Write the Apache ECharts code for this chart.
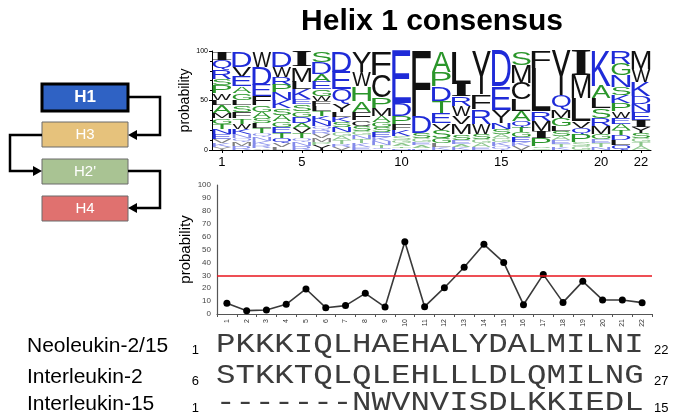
<!DOCTYPE html>
<html><head><meta charset="utf-8">
<script src="https://cdn.jsdelivr.net/npm/echarts@6/dist/echarts.min.js"></script>
<style>html,body{margin:0;padding:0;background:#fff}#c{width:674px;height:414px}</style>
</head><body><div id="c"></div>
<script>
// ---------- data ----------
const positions = ['1','2','3','4','5','6','7','8','9','10','11','12','13','14','15','16','17','18','19','20','21','22'];
const logoTickLabels = [1, 5, 10, 15, 20, 22];
const consensusProb = [8.3, 2.6, 3.1, 7.5, 19.4, 4.9, 6.5, 16, 5.4, 56, 5.7, 20.4, 36.2, 54, 40, 7.2, 30.7, 9, 25.3, 10.9, 10.9, 8.8];
const threshold = 30;
// sequence logo: letters top -> bottom with probability heights (%)
const logoLetters = [
  'IQRSPWLAMGTNEVKY', 'DVEAGLSFTWKNQMR', 'WDEFGASLTQNKRV', 'DWRPNKSAGETQVL',
  'IMLKESGDAVTQNR', 'SDAEGWFLTKNQRVMPY', 'DEQYLKSNGATRV', 'YWHAFCSGNTKE',
  'FCPMAGSEKNTQ', 'EDPFKSGATN', 'FDSGEAK', 'APDTEVSGLK',
  'LIRWVMSEAK', 'YFRWSGAE', 'DEYNSAGKQ', 'SMCLAQTGEKV',
  'FLRMIPSG', 'YQMGLSAETK', 'IMLVQPSG', 'KALSRMGETN',
  'RGNSKPWEATDLQ', 'MWKDNEIYSGTA'
];
const logoHeights = [
  [9,10,9,7,8,7,5,8,5,6,5,5,5,4,4,3], [16,10,10,7,7,5,7,6,6,5,5,4,4,4,4], [16,18,12,9,7,6,5,5,5,4,4,4,3,2], [16,10,8,8,8,8,7,6,6,6,5,5,4,3],
  [16,15,8,10,5,7,6,6,5,5,5,4,4,4], [11,12,8,8,7,5,5,5,5,5,5,4,4,4,4,3,5], [21,18,15,8,5,5,5,5,4,4,4,3,3], [21,15,15,11,8,6,5,4,4,4,4,3],
  [24,23,11,8,6,5,5,5,4,4,3,2], [53,13,8,6,6,4,3,3,2,2], [66,17,5,4,3,3,2], [21,15,15,12,10,7,8,5,4,3],
  [33,13,10,10,8,10,6,4,3,3], [44,15,15,10,5,4,4,3], [36,24,13,6,5,4,4,4,4], [14,18,17,12,10,6,5,5,5,4,4],
  [17,44,10,10,7,8,2,2], [45,15,8,8,5,5,4,4,3,3], [25,23,23,7,6,8,4,4], [35,13,10,10,8,8,5,4,4,3],
  [13,12,12,8,8,8,7,6,6,5,5,5,5], [18,13,15,8,8,8,7,6,5,4,4,4]
];
const proteinNames = ['Neoleukin-2/15', 'Interleukin-2', 'Interleukin-15'];
const seqStart = ['1', '6', '1'];
const seqEnd = ['22', '27', '15'];
const sequences = ['PKKKIQLHAEHALYDALMILNI', 'STKKTQLQLEHLLLDLQMILNG', '-------NWVNVISDLKKIEDL'];
const helixLabels = ['H1', 'H3', "H2'", 'H4'];
const titleText = 'Helix 1 consensus';

// ---------- helpers ----------
const BLUE = '#1f2bd8', GREEN = '#2a962a', BLACK = '#111';
function letterColor(ch) {
  if ('DEKRNQ'.indexOf(ch) >= 0) return BLUE;
  if ('SAGTPH'.indexOf(ch) >= 0) return GREEN;
  return BLACK;
}
const mctx = document.createElement('canvas').getContext('2d');
const gcache = {};
function glyphBox(ch, fam, fw) {
  const k = ch + fam + fw;
  if (gcache[k]) return gcache[k];
  mctx.font = 'normal ' + fw + ' 100px ' + fam;
  mctx.textBaseline = 'middle';
  mctx.textAlign = 'left';
  const m = mctx.measureText(ch);
  return gcache[k] = { l: m.actualBoundingBoxLeft, r: m.actualBoundingBoxRight, a: m.actualBoundingBoxAscent, d: m.actualBoundingBoxDescent };
}
const logoItems = [];
logoLetters.forEach((str, p) => {
  let cur = logoHeights[p].reduce((s, v) => s + v, 0);
  for (let j = 0; j < str.length; j++) {
    const h = logoHeights[p][j];
    logoItems.push({ pos: p + 1, y1: cur, y0: cur - h, ch: str[j] });
    cur -= h;
  }
});

// ---------- chart ----------
const chart = echarts.init(document.getElementById('c'), null, { renderer: 'canvas' });
const boxY = [84, 122, 159, 196];
const boxFill = ['#2f62c4', '#e6c27c', '#a9c393', '#e0716f'];
const graphics = [];
helixLabels.forEach((t, i) => {
  graphics.push({ type: 'rect', shape: { x: 42, y: boxY[i], width: 86, height: i === 0 ? 27 : 25 },
    style: { fill: boxFill[i], stroke: i === 0 ? '#000' : '#6b6b6b', lineWidth: i === 0 ? 3 : 1 } });
  graphics.push({ type: 'text', x: 85, y: boxY[i] + (i === 0 ? 13.5 : 12.5),
    style: { text: t, fill: '#fff', font: (i === 0 ? 'bold 17px' : '15px') + ' "Liberation Sans", Arial', align: 'center', verticalAlign: 'middle' } });
});
const arrows = [
  [[[129, 97], [160, 97], [160, 135], [134, 135]], [[128, 135], [137, 130], [137, 140]]],
  [[[42, 135], [10, 135], [10, 171], [36, 171]], [[42, 171], [33, 166], [33, 176]]],
  [[[128, 171], [160, 171], [160, 208], [134, 208]], [[128, 208], [137, 203], [137, 213]]]
];
arrows.forEach(a => {
  graphics.push({ type: 'polyline', shape: { points: a[0] }, style: { stroke: '#000', lineWidth: 2.5, fill: null } });
  graphics.push({ type: 'polygon', shape: { points: a[1] }, style: { fill: '#000' } });
});
graphics.push({ type: 'text', x: 432, y: 22, style: { text: titleText, fill: '#000', font: 'bold 30px "Liberation Sans", Arial', align: 'center', verticalAlign: 'middle' } });
const rowY = [345, 376, 403];
proteinNames.forEach((n, i) => {
  graphics.push({ type: 'text', x: 27, y: rowY[i] + 1, style: { text: n, fill: '#000', font: '21px "Liberation Sans", Arial', verticalAlign: 'middle' } });
  graphics.push({ type: 'text', x: 199, y: rowY[i] + 5, style: { text: seqStart[i], fill: '#000', font: '13px "Liberation Sans", Arial', align: 'right', verticalAlign: 'middle' } });
  graphics.push({ type: 'text', x: 216, y: rowY[i], scaleY: 0.86,
    style: { text: sequences[i], fill: '#3c3c3c', font: '32.4px "Liberation Mono", monospace', verticalAlign: 'middle' } });
  graphics.push({ type: 'text', x: 654, y: rowY[i] + 5, style: { text: seqEnd[i], fill: '#000', font: '13px "Liberation Sans", Arial', verticalAlign: 'middle' } });
});

const option = {
  animation: false,
  backgroundColor: '#fff',
  textStyle: { fontFamily: '"Liberation Sans", Arial' },
  grid: [
    { left: 212, right: 23, top: 51, bottom: 264 },
    { left: 217, right: 22, top: 185, bottom: 100 }
  ],
  xAxis: [
    { gridIndex: 0, type: 'value', min: 0.5, max: 22.5,
      axisLine: { show: true, lineStyle: { color: '#000', width: 1 } },
      axisTick: { show: true, length: 3, customValues: positions.map(Number), lineStyle: { color: '#000' } },
      axisLabel: { customValues: logoTickLabels, fontSize: 13, color: '#000', margin: 6 },
      splitLine: { show: false } },
    { gridIndex: 1, type: 'category', data: positions, boundaryGap: true,
      axisLine: { lineStyle: { color: '#555', width: 1.2 } },
      axisTick: { show: true, length: 3, lineStyle: { color: '#555' } },
      axisLabel: { rotate: 90, fontSize: 7, color: '#333', margin: 5, interval: 0 } }
  ],
  yAxis: [
    { gridIndex: 0, type: 'value', min: 0, max: 100, interval: 50,
      name: 'probability', nameLocation: 'middle', nameGap: 20, nameMoveOverlap: false,
      nameTextStyle: { fontSize: 14, color: '#000' },
      axisLine: { show: true, lineStyle: { color: '#000' } },
      axisTick: { show: true, length: 3, lineStyle: { color: '#000' } },
      minorTick: { show: true, splitNumber: 5, length: 2, lineStyle: { color: '#000' } },
      axisLabel: { fontSize: 7, color: '#000', margin: 4 },
      splitLine: { show: false } },
    { gridIndex: 1, type: 'value', min: 0, max: 100, interval: 10,
      name: 'probability', nameLocation: 'middle', nameGap: 24, nameMoveOverlap: false,
      nameTextStyle: { fontSize: 15, color: '#000' },
      axisLine: { show: true, lineStyle: { color: '#555', width: 1.2 } },
      axisTick: { show: false },
      axisLabel: { fontSize: 8, color: '#444', margin: 6 },
      splitLine: { show: false } }
  ],
  series: [
    { type: 'custom', xAxisIndex: 0, yAxisIndex: 0, clip: false,
      data: logoItems.map(it => [it.pos, it.y0, it.y1]),
      encode: { x: 0, y: [1, 2] },
      renderItem: function (params, api) {
        const it = logoItems[params.dataIndex];
        const p0 = api.coord([it.pos - 0.5, it.y0]);
        const p1 = api.coord([it.pos + 0.5, it.y1]);
        const colW = p1[0] - p0[0];
        const W = colW * 0.94;
        const L = p0[0] + (colW - W) / 2;
        const T = p1[1] + 0.15;
        const H = p0[1] - p1[1] - 0.3;
        if (H < 0.6) return null;
        const isI = it.ch === 'I';
        const fam = isI ? '"Liberation Serif"' : '"Liberation Sans"';
        const fw = isI ? 'bold' : 'normal';
        const g = glyphBox(it.ch, fam, fw);
        const sx = W / (g.l + g.r), sy = H / (g.a + g.d);
        const small = (it.y1 - it.y0) < 5;
        return { type: 'text', x: L + sx * g.l, y: T + sy * g.a, scaleX: sx, scaleY: sy,
          style: { text: it.ch, fontSize: 100, fontFamily: fam, fontWeight: fw, fill: letterColor(it.ch),
            opacity: small ? 0.55 : 1, align: 'left', verticalAlign: 'middle' } };
      } },
    { type: 'line', xAxisIndex: 1, yAxisIndex: 1, data: consensusProb,
      symbol: 'circle', symbolSize: 7, itemStyle: { color: '#000' },
      lineStyle: { color: '#3a3a3a', width: 1.6 },
      markLine: { silent: true, symbol: ['none', 'none'], label: { show: false },
        lineStyle: { color: '#e8141c', width: 1.6, type: 'solid' },
        data: [{ yAxis: threshold }] } }
  ],
  graphic: graphics
};
chart.setOption(option);
</script></body></html>
